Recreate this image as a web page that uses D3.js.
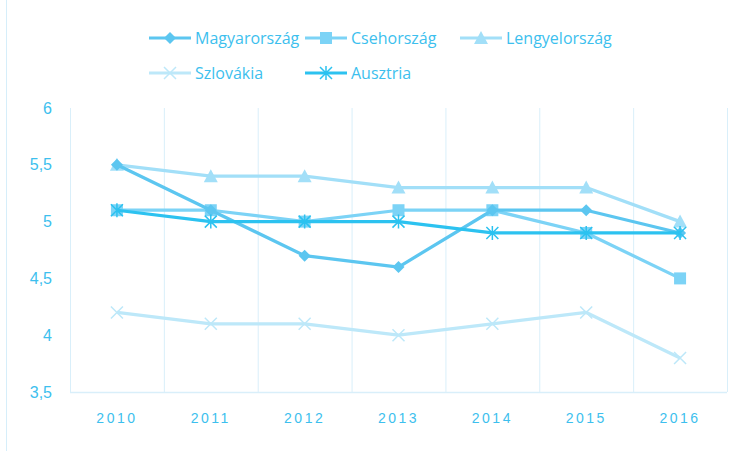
<!DOCTYPE html>
<html>
<head>
<meta charset="utf-8">
<script src="https://cdn.jsdelivr.net/npm/d3@7"></script>
<style>
  body { margin: 0; background: #fff; }
  svg { display: block; font-family: "Open Sans", "Liberation Sans", sans-serif; }
</style>
</head>
<body>
<div id="chart"></div>
<script>
const years = ["2010", "2011", "2012", "2013", "2014", "2015", "2016"];
const magyarorszag = [5.5, 5.1, 4.7, 4.6, 5.1, 5.1, 4.9];
const csehorszag = [5.1, 5.1, 5.0, 5.1, 5.1, 4.9, 4.5];
const lengyelorszag = [5.5, 5.4, 5.4, 5.3, 5.3, 5.3, 5.0];
const szlovakia = [4.2, 4.1, 4.1, 4.0, 4.1, 4.2, 3.8];
const ausztria = [5.1, 5.0, 5.0, 5.0, 4.9, 4.9, 4.9];
const yTicks = [3.5, 4, 4.5, 5, 5.5, 6];

const W = 739, H = 451;
const margin = {top: 108, right: 12, bottom: 59, left: 70};
const width = W - margin.left - margin.right,
      height = H - margin.top - margin.bottom;
const textColor = "#3dbfee";

const series = [
  {name: "Magyarország", values: magyarorszag, color: "#5cc6f0", symbol: "diamond"},
  {name: "Csehország", values: csehorszag, color: "#7cd3f6", symbol: "square"},
  {name: "Lengyelország", values: lengyelorszag, color: "#a2dff8", symbol: "triangle"},
  {name: "Szlovákia", values: szlovakia, color: "#bde8f9", symbol: "x"},
  {name: "Ausztria", values: ausztria, color: "#2cc2f0", symbol: "star"}
];

const svgRoot = d3.select("#chart").append("svg")
  .attr("width", W).attr("height", H);

// outer frame edge
svgRoot.append("line")
  .attr("x1", 6.5).attr("x2", 6.5).attr("y1", 0).attr("y2", H)
  .attr("stroke", "#d6eefa").attr("stroke-width", 1);

const svg = svgRoot.append("g")
  .attr("transform", `translate(${margin.left},${margin.top})`);

const x = d3.scaleBand().domain(years).range([0, width]);
const y = d3.scaleLinear().domain([3.5, 6]).range([height, 0]);

// vertical gridlines at band edges
const edges = years.map(d => x(d)).concat([width]);
svg.selectAll(".vgrid").data(edges).enter().append("line")
  .attr("x1", d => d + 0.5).attr("x2", d => d + 0.5)
  .attr("y1", 0).attr("y2", height)
  .attr("stroke", "#d9effa").attr("stroke-width", 1);

svg.append("line")
  .attr("x1", 0).attr("x2", width)
  .attr("y1", height + 0.5).attr("y2", height + 0.5)
  .attr("stroke", "#d9effa").attr("stroke-width", 1.5);

// axes
const yAxis = svg.append("g")
  .call(d3.axisLeft(y).tickValues(yTicks).tickSize(0).tickPadding(18)
    .tickFormat(d => String(d).replace(".", ",")));
yAxis.select(".domain").remove();
yAxis.selectAll("text").attr("fill", textColor).style("font-size", "16px");

const xAxis = svg.append("g")
  .attr("transform", `translate(0,${height})`)
  .call(d3.axisBottom(x).tickSize(0).tickPadding(21));
xAxis.select(".domain").remove();
xAxis.selectAll("text").attr("fill", textColor)
  .style("font-size", "14px").style("letter-spacing", "2.5px");

const cx = (d, i) => x(years[i]) + x.bandwidth() / 2;

function drawMarker(g, symbol, color) {
  if (symbol === "diamond") {
    g.append("path").attr("d", "M0,-6L6,0L0,6L-6,0Z").attr("fill", color);
  } else if (symbol === "square") {
    g.append("rect").attr("x", -6).attr("y", -6).attr("width", 12).attr("height", 12).attr("fill", color);
  } else if (symbol === "triangle") {
    g.append("path").attr("d", "M0,-7L7,6L-7,6Z").attr("fill", color);
  } else if (symbol === "x") {
    g.append("path").attr("d", "M-6,-6L6,6M-6,6L6,-6").attr("stroke", color).attr("stroke-width", 1.5);
  } else if (symbol === "star") {
    g.append("path").attr("d", "M-6,-6L6,6M-6,6L6,-6M0,-7L0,7")
      .attr("stroke", color).attr("stroke-width", 1.5);
  }
}

const line = d3.line().x(cx).y(d => y(d));

// draw in order (Szlovákia under, then others)
const drawOrder = [3, 2, 1, 0, 4];
drawOrder.forEach(k => {
  const s = series[k];
  svg.append("path")
    .datum(s.values)
    .attr("fill", "none")
    .attr("stroke", s.color)
    .attr("stroke-width", 3.25)
    .attr("stroke-linejoin", "round")
    .attr("d", line);
  s.values.forEach((v, i) => {
    const g = svg.append("g").attr("transform", `translate(${cx(v, i)},${y(v)})`);
    drawMarker(g, s.symbol, s.color);
  });
});

// legend
const legendPos = [
  {x: 149, y: 38}, {x: 305, y: 38}, {x: 460, y: 38},
  {x: 149, y: 73}, {x: 305, y: 73}
];
series.forEach((s, k) => {
  const p = legendPos[k];
  const g = svgRoot.append("g").attr("transform", `translate(${p.x},${p.y})`);
  g.append("line").attr("x1", 0).attr("x2", 42).attr("y1", 0).attr("y2", 0)
    .attr("stroke", s.color).attr("stroke-width", 3);
  const m = g.append("g").attr("transform", "translate(21,0)");
  drawMarker(m, s.symbol, s.color);
  g.append("text").attr("x", 46).attr("y", 0).attr("dy", "0.35em")
    .attr("fill", textColor).style("font-size", "16px").text(s.name);
});
</script>
</body>
</html>
